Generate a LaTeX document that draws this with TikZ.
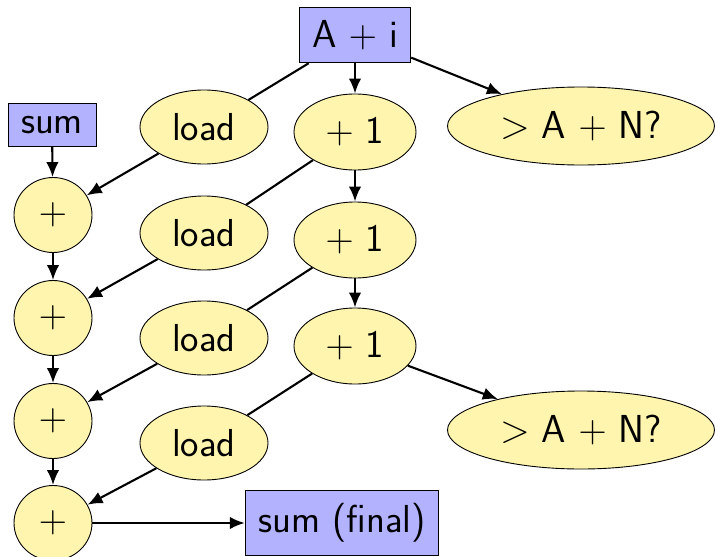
\RequirePackage{fix-cm}
\documentclass[tikz,border=0pt]{standalone}
\usetikzlibrary{shapes.geometric,arrows.meta}
\definecolor{boxblue}{RGB}{178,178,255}
\definecolor{opyellow}{RGB}{255,245,175}
\begin{document}
\begin{tikzpicture}[x=1pt,y=-1pt,
  font=\sffamily\fontsize{39}{46}\selectfont,
  valbox/.style={draw=black,line width=0.9pt,fill=boxblue,inner xsep=13pt,inner ysep=13pt},
  opnode/.style={draw=black,line width=0.9pt,fill=opyellow,ellipse,inner sep=0pt},
  loadnode/.style={opnode,minimum width=128pt,minimum height=74pt},
  incnode/.style={opnode,minimum width=122pt,minimum height=76pt},
  cmpnode/.style={opnode,minimum width=267pt,minimum height=78pt},
  addnode/.style={opnode,minimum width=78pt,minimum height=75pt},
  flow/.style={line width=2.1pt,-{Latex[length=15pt,width=12.5pt]}},
  link/.style={line width=2.1pt}]
\useasboundingbox (0,0) rectangle (715,557);

% pointer and accumulator inputs
\node[valbox] (ai) at (355,35) {A $+$ i};
\node[valbox] (sum) at (52,125) {sum};

% loads
\node[loadnode] (ld1) at (204,127) {load};
\node[loadnode] (ld2) at (204,233) {load};
\node[loadnode] (ld3) at (204,338) {load};
\node[loadnode] (ld4) at (204,443) {load};

% pointer increments
\node[incnode] (inc1) at (355,132) {$+$ 1};
\node[incnode] (inc2) at (355,240) {$+$ 1};
\node[incnode] (inc3) at (355,346) {$+$ 1};

% bound checks
\node[cmpnode] (cmp1) at (581,126) {$>$ A $+$ N?};
\node[cmpnode] (cmp2) at (581,430) {$>$ A $+$ N?};

% accumulating adds
\node[addnode] (add1) at (53,215) {$+$};
\node[addnode] (add2) at (53,318) {$+$};
\node[addnode] (add3) at (53,421) {$+$};
\node[addnode] (add4) at (53,523) {$+$};

\node[valbox] (fin) at (342,523) {sum (final)};

% accumulator chain
\draw[flow] (sum) -- (add1);
\draw[flow] (add1) -- (add2);
\draw[flow] (add2) -- (add3);
\draw[flow] (add3) -- (add4);
\draw[flow] (add4) -- (fin);

% pointer chain
\draw[flow] (ai) -- (inc1);
\draw[flow] (inc1) -- (inc2);
\draw[flow] (inc2) -- (inc3);
\draw[flow] (ai) -- (cmp1);
\draw[flow] (inc3) -- (cmp2);

% address to load to add
\draw[link] (ai) -- (ld1);
\draw[link] (inc1) -- (ld2);
\draw[link] (inc2) -- (ld3);
\draw[link] (inc3) -- (ld4);
\draw[flow] (ld1) -- (add1);
\draw[flow] (ld2) -- (add2);
\draw[flow] (ld3) -- (add3);
\draw[flow] (ld4) -- (add4);
\end{tikzpicture}
\end{document}
